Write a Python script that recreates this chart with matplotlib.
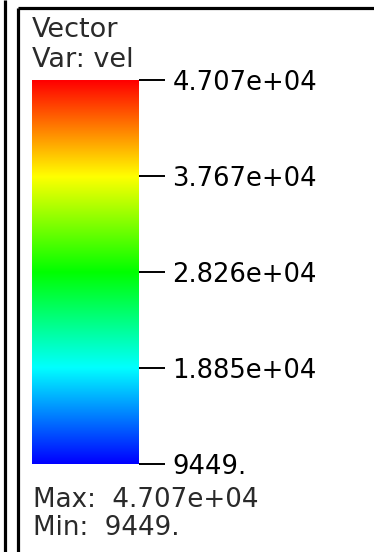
import numpy as np
import matplotlib
matplotlib.use("Agg")
import matplotlib.pyplot as plt
from matplotlib.colors import LinearSegmentedColormap, Normalize
from matplotlib.lines import Line2D

# legend data
var_min = 9449.
var_max = 4.707e+04
tick_values = [9449., 1.885e+04, 2.826e+04, 3.767e+04, 4.707e+04]
tick_labels = ["9449.", "1.885e+04", "2.826e+04", "3.767e+04", "4.707e+04"]
title_lines = ["Vector", "Var: vel"]
max_text = "Max:  4.707e+04"
min_text = "Min:  9449."

# VisIt "hot" colour table
hot_colors = ["#0000ff", "#00ffff", "#00ff00", "#ffff00", "#ff0000"]
cmap = LinearSegmentedColormap.from_list("visit_hot", hot_colors)

W, H = 374, 552
fig = plt.figure(figsize=(W / 100, H / 100), dpi=100)
fig.patch.set_facecolor("white")


def px(x, y):
    # pixel coords from top-left -> figure fraction
    return x / W, 1 - y / H


# frame lines
for xs, ys, lw in [([5, 5], [0, H], 2.3),
                   ([18, 18], [7.5, H], 2.3),
                   ([18, W], [7.5, 7.5], 2.3)]:
    fx = [x / W for x in xs]
    fy = [1 - y / H for y in ys]
    fig.add_artist(Line2D(fx, fy, color="black", lw=lw, solid_capstyle="butt"))

# colour bar
x0, x1 = 32, 139
y0, y1 = 80, 464
ax = fig.add_axes([x0 / W, 1 - y1 / H, (x1 - x0) / W, (y1 - y0) / H])
grad = np.linspace(var_min, var_max, 256).reshape(-1, 1)
ax.imshow(grad, cmap=cmap, norm=Normalize(var_min, var_max), aspect="auto",
          origin="lower", extent=[0, 1, var_min, var_max])
ax.set_xlim(0, 1)
ax.set_ylim(var_min, var_max)
for s in ax.spines.values():
    s.set_visible(False)
ax.set_xticks([])
ax.yaxis.tick_right()
ax.set_yticks(tick_values)
ax.set_yticklabels(tick_labels)
ax.tick_params(axis="y", length=18.5, width=1.4, pad=5.5, labelsize=18.6,
               colors="black")

# title + min/max text
txt = dict(ha="left", va="baseline", color="#2a2a2a")
fig.text(*px(32, 37), title_lines[0], fontsize=19.5, **txt)
fig.text(*px(32, 67), title_lines[1], fontsize=19.5, **txt)
fig.text(*px(33, 507), max_text, fontsize=18.8, **txt)
fig.text(*px(33, 535), min_text, fontsize=18.8, **txt)

fig.savefig("out.png", dpi=100, facecolor="white")
